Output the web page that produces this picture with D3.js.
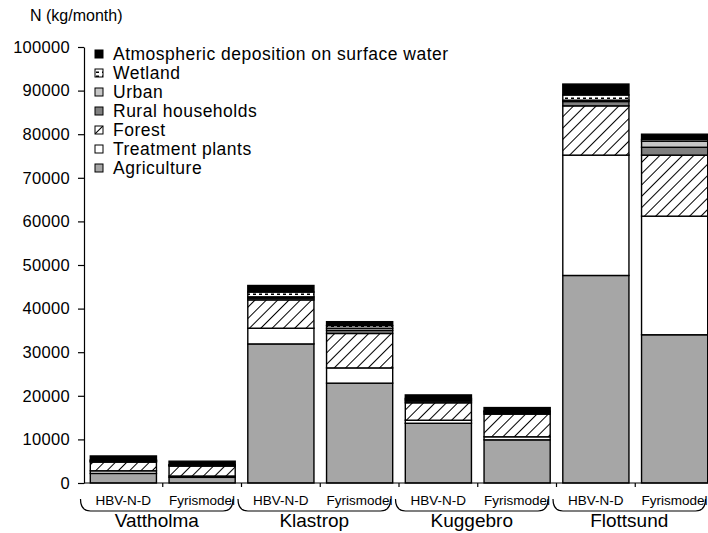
<!DOCTYPE html>
<html>
<head>
<meta charset="utf-8">
<script src="https://cdn.jsdelivr.net/npm/d3@7"></script>
<style>
  body { margin: 0; background: #fff; }
  text { font-family: "Liberation Sans", Arial, sans-serif; fill: #000; }
</style>
</head>
<body>
<div id="chart"></div>
<script>
// Chart data
const sites = ["Vattholma", "Klastrop", "Kuggebro", "Flottsund"];
const models = ["HBV-N-D", "Fyrismodel"];
const sources = ["Agriculture", "Treatment plants", "Forest", "Rural households", "Urban", "Wetland", "Atmospheric deposition on surface water"];

// kg/month, one value per bar (site x model, in order)
const agriculture = [2200, 1300, 31900, 22900, 13700, 9900, 47600, 34000];
const treatment   = [600, 300, 3600, 3500, 700, 700, 27600, 27200];
const forest      = [2000, 2300, 6500, 7900, 4000, 5200, 11300, 14000];
const rural       = [200, 100, 400, 700, 400, 300, 1000, 1800];
const urban       = [100, 100, 300, 500, 300, 300, 300, 1400];
const wetland     = [200, 100, 1100, 600, 300, 100, 1200, 400];
const atmospheric = [900, 800, 1500, 900, 800, 800, 2500, 1200];

const yTicks = d3.range(0, 100001, 10000);

// Basic dimensions
const width = 708;
const height = 533;
const plotLeft = 84;
const plotBottom = 483;
const plotTop = 47;

const seriesValues = [agriculture, treatment, forest, rural, urban, wetland, atmospheric];

const bars = [];
sites.forEach((s, i) => models.forEach((m, j) => bars.push({ key: s + "|" + m, site: s, model: m, idx: i * 2 + j })));

const table = bars.map(b => {
  const row = { key: b.key };
  sources.forEach((src, k) => row[src] = seriesValues[k][b.idx]);
  return row;
});

const stacked = d3.stack().keys(sources)(table);

const svg = d3.select("#chart")
  .append("svg")
  .attr("width", width)
  .attr("height", height);

// Patterns
const defs = svg.append("defs");

const hatch = defs.append("pattern")
  .attr("id", "hatch")
  .attr("patternUnits", "userSpaceOnUse")
  .attr("width", 8)
  .attr("height", 8)
  .attr("patternTransform", "rotate(45)");
hatch.append("rect").attr("width", 8).attr("height", 8).attr("fill", "#fff");
hatch.append("line")
  .attr("x1", 0).attr("y1", 0).attr("x2", 0).attr("y2", 8)
  .attr("stroke", "#000").attr("stroke-width", 2);

const dots = defs.append("pattern")
  .attr("id", "dots")
  .attr("patternUnits", "userSpaceOnUse")
  .attr("width", 6)
  .attr("height", 4);
dots.append("rect").attr("width", 6).attr("height", 4).attr("fill", "#fff");
dots.append("rect").attr("x", 1).attr("y", 1.5).attr("width", 3).attr("height", 1.5).attr("fill", "#000");

const fills = {
  "Agriculture": "#a6a6a6",
  "Treatment plants": "#ffffff",
  "Forest": "url(#hatch)",
  "Rural households": "#808080",
  "Urban": "#c6c6c6",
  "Wetland": "url(#dots)",
  "Atmospheric deposition on surface water": "#000000"
};

// Scales
const x = d3.scaleBand()
  .domain(bars.map(b => b.key))
  .range([plotLeft, plotLeft + 8 * 78.75])
  .paddingInner(0.16)
  .paddingOuter(0.08);

const y = d3.scaleLinear()
  .domain([0, 100000])
  .range([plotBottom, plotTop]);

// Bars
svg.append("g")
  .selectAll("g")
  .data(stacked)
  .enter()
  .append("g")
  .attr("fill", d => fills[d.key])
  .selectAll("rect")
  .data(d => d)
  .enter()
  .append("rect")
  .attr("x", d => x(d.data.key))
  .attr("y", d => y(d[1]))
  .attr("width", x.bandwidth())
  .attr("height", d => y(d[0]) - y(d[1]))
  .attr("stroke", "#000")
  .attr("stroke-width", 1.4);

// Y axis
const yAxis = svg.append("g")
  .attr("transform", `translate(${plotLeft},0)`)
  .call(d3.axisLeft(y).tickValues(yTicks).tickSize(6).tickSizeOuter(0).tickPadding(8).tickFormat(d3.format("d")));
yAxis.attr("font-family", null).attr("font-size", null);
yAxis.selectAll("text").attr("font-size", "16.5px").attr("letter-spacing", "0.3px");
yAxis.selectAll("line, path").attr("stroke", "#000").attr("stroke-width", 1.2);

// X axis: line with ticks at band boundaries
svg.append("line")
  .attr("x1", plotLeft).attr("x2", width)
  .attr("y1", plotBottom).attr("y2", plotBottom)
  .attr("stroke", "#000").attr("stroke-width", 1.2);

svg.append("g")
  .selectAll("line")
  .data(d3.range(1, bars.length))
  .enter()
  .append("line")
  .attr("x1", i => x(bars[i].key) - x.step() * x.paddingInner() / 2)
  .attr("x2", i => x(bars[i].key) - x.step() * x.paddingInner() / 2)
  .attr("y1", plotBottom)
  .attr("y2", plotBottom + 4)
  .attr("stroke", "#000").attr("stroke-width", 1.2);

// Model labels
svg.append("g")
  .selectAll("text")
  .data(bars)
  .enter()
  .append("text")
  .attr("x", d => x(d.key) + x.bandwidth() / 2)
  .attr("y", 505)
  .attr("text-anchor", "middle")
  .attr("font-size", "13.5px")
  .text(d => d.model);

// Braces and site labels
const step = x.step();
const braces = svg.append("g");
sites.forEach((s, i) => {
  const x0 = plotLeft + i * 2 * step - 3.5;
  const x1 = plotLeft + (i + 1) * 2 * step - 8.5;
  braces.append("path")
    .attr("d", `M${x0},499 Q${x0},511 ${x0 + 10},511 L${x1 - 10},511 Q${x1},511 ${x1},499`)
    .attr("fill", "none")
    .attr("stroke", "#000")
    .attr("stroke-width", 1.2);
  braces.append("text")
    .attr("x", (x0 + x1) / 2)
    .attr("y", 527)
    .attr("text-anchor", "middle")
    .attr("font-size", "19px")
    .text(s);
});

// Axis title
svg.append("text")
  .attr("x", 30)
  .attr("y", 21)
  .attr("font-size", "16px")
  .text("N (kg/month)");

// Legend (top entry = last stacked series)
const legend = svg.append("g").attr("transform", "translate(95,54)");
const legendItems = sources.slice().reverse();
legendItems.forEach((src, i) => {
  legend.append("rect")
    .attr("x", 0)
    .attr("y", i * 19 - 4)
    .attr("width", 8)
    .attr("height", 8)
    .attr("fill", fills[src])
    .attr("stroke", "#000")
    .attr("stroke-width", 1);
  legend.append("text")
    .attr("x", 18)
    .attr("y", i * 19)
    .attr("dy", "0.35em")
    .attr("font-size", "17.5px")
    .attr("letter-spacing", "0.5px")
    .text(src);
});
</script>
</body>
</html>
